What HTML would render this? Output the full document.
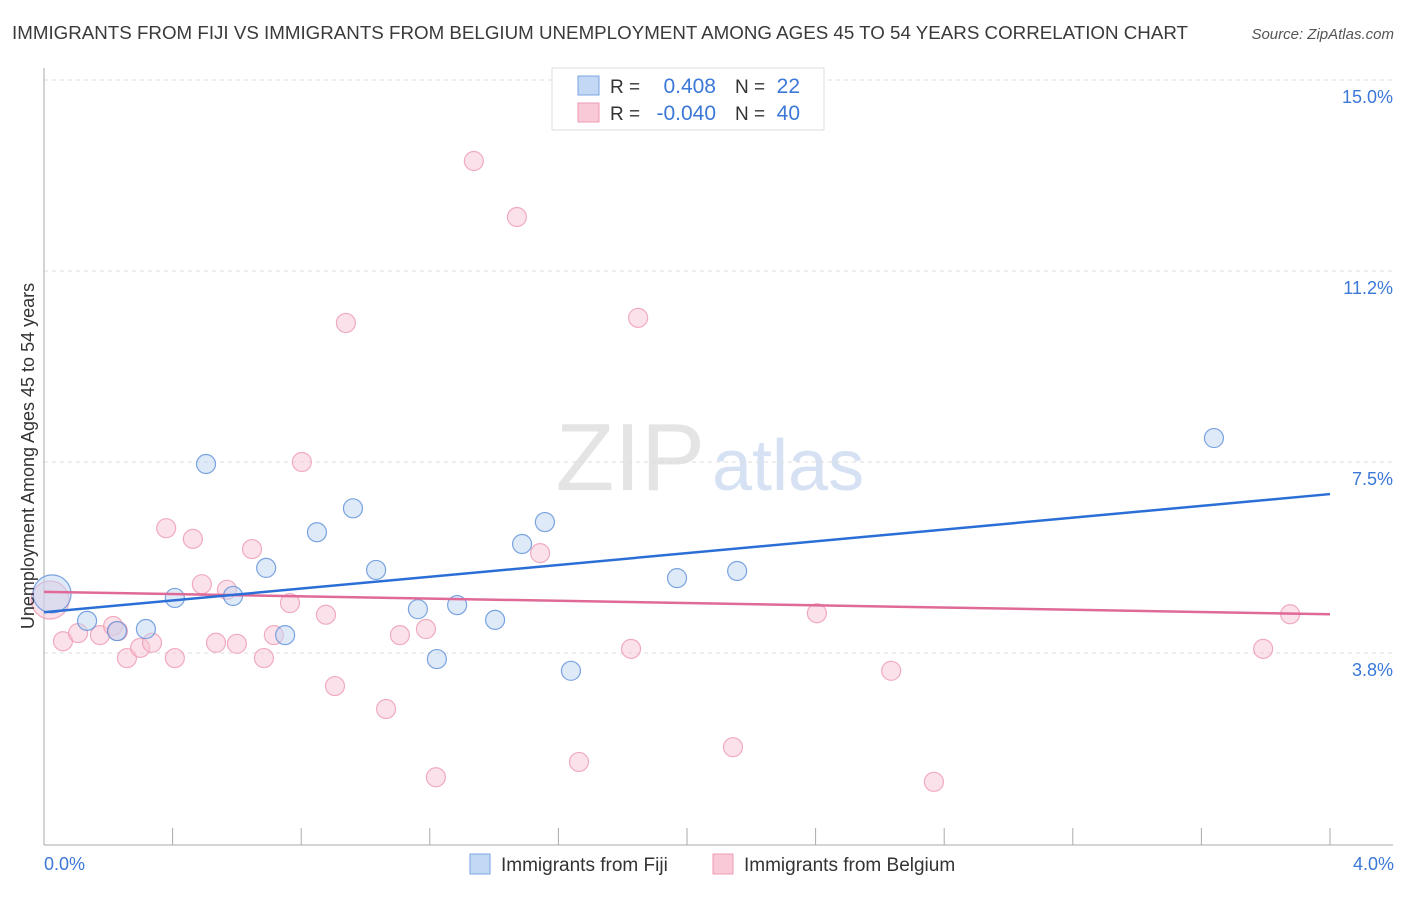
<!DOCTYPE html>
<html><head><meta charset="utf-8"><style>
body{margin:0;background:#fff;font-family:"Liberation Sans",sans-serif;}
svg text{font-family:"Liberation Sans",sans-serif;}
</style></head><body>
<svg id="chart" width="1406" height="892" xmlns="http://www.w3.org/2000/svg">
<text x="12" y="39" font-size="18.5" fill="#3a3a3a" textLength="1176" lengthAdjust="spacingAndGlyphs">IMMIGRANTS FROM FIJI VS IMMIGRANTS FROM BELGIUM UNEMPLOYMENT AMONG AGES 45 TO 54 YEARS CORRELATION CHART</text>
<text x="1394" y="39" font-size="15" fill="#555" font-style="italic" text-anchor="end">Source: ZipAtlas.com</text>
<text x="705" y="490" font-size="96" fill="#e4e4e4" text-anchor="end" font-family="Liberation Serif">ZIP</text>
<text x="712" y="490" font-size="72" fill="#d6e2f3">atlas</text>
<g id="grid"></g>
<g id="axes"></g>
<g id="marks"></g>
<text transform="translate(34,456) rotate(-90)" font-size="18" fill="#333" text-anchor="middle">Unemployment Among Ages 45 to 54 years</text>
<text x="44" y="870" font-size="18" fill="#3b78d8">0.0%</text>
<text x="1394" y="870" font-size="18" fill="#3b78d8" text-anchor="end">4.0%</text>
<g>
<rect x="552" y="68" width="272" height="62" fill="#fff" stroke="#ddd"/>
<rect x="578" y="76" width="21" height="19" fill="#c3d8f5" stroke="#7aa6e3"/>
<rect x="578" y="103" width="21" height="19" fill="#f9c9d7" stroke="#ee9ab3"/>
<text x="610" y="93" font-size="19" fill="#333">R =</text><text x="716" y="93" font-size="21" fill="#3b78d8" text-anchor="end">0.408</text>
<text x="735" y="93" font-size="19" fill="#333">N =</text><text x="800" y="93" font-size="21" fill="#3b78d8" text-anchor="end">22</text>
<text x="610" y="120" font-size="19" fill="#333">R =</text><text x="716" y="120" font-size="21" fill="#3b78d8" text-anchor="end">-0.040</text>
<text x="735" y="120" font-size="19" fill="#333">N =</text><text x="800" y="120" font-size="21" fill="#3b78d8" text-anchor="end">40</text>
</g>
<g>
<rect x="470" y="854" width="20" height="20" fill="#c3d8f5" stroke="#7aa6e3"/>
<text x="501" y="871" font-size="19" fill="#333">Immigrants from Fiji</text>
<rect x="713" y="854" width="20" height="20" fill="#f9c9d7" stroke="#ee9ab3"/>
<text x="744" y="871" font-size="19" fill="#333">Immigrants from Belgium</text>
</g>
</svg>
<script>
const yTicks=[3.75,7.5,11.25,15];
const yTickLabels=["3.8%","7.5%","11.2%","15.0%"];
const xTicks=[0.4,0.8,1.2,1.6,2.0,2.4,2.8,3.2,3.6,4.0];
const fijiX=[0.025,0.134,0.227,0.317,0.407,0.504,0.588,0.691,0.75,0.849,0.961,1.033,1.163,1.222,1.285,1.403,1.487,1.558,1.639,1.969,2.156,3.639];
const fijiY=[4.91,4.38,4.18,4.22,4.83,7.46,4.87,5.42,4.10,6.12,6.59,5.38,4.61,3.63,4.69,4.40,5.89,6.32,3.40,5.22,5.36,7.97];
const belX=[0.019,0.059,0.106,0.174,0.215,0.230,0.258,0.299,0.336,0.380,0.407,0.463,0.491,0.535,0.569,0.600,0.647,0.684,0.715,0.765,0.802,0.877,0.905,0.939,1.064,1.107,1.188,1.219,1.337,1.471,1.543,1.664,1.826,1.848,2.143,2.404,2.635,2.768,3.792,3.876];
const belY=[4.79,3.98,4.14,4.10,4.28,4.18,3.65,3.85,3.95,6.20,3.65,5.99,5.10,3.95,4.99,3.93,5.79,3.65,4.10,4.73,7.50,4.50,3.10,10.23,2.65,4.10,4.22,1.31,13.41,12.31,5.71,1.61,3.83,10.33,1.90,4.53,3.40,1.22,3.83,4.51];
const fijiTrend=[4.55,6.87];
const belTrend=[4.95,4.51];
const trendX=[0,4.0];
const NS="http://www.w3.org/2000/svg";
const xs=v=>44+v*321.5;
const ys=v=>80+(15-v)*50.93;
function mk(tag,attrs,parent){const e=document.createElementNS(NS,tag);for(const k in attrs)e.setAttribute(k,attrs[k]);parent.appendChild(e);return e;}
const grid=document.getElementById('grid'),axes=document.getElementById('axes'),marks=document.getElementById('marks');
yTicks.forEach((t,i)=>{
 const l=mk('line',{x1:44,x2:1393,y1:ys(t),y2:ys(t),stroke:'#ddd','stroke-dasharray':'4,4'},grid);
 
 
 const tx=mk('text',{x:1393,y:ys(t)+23,'font-size':18,fill:'#3b78d8','text-anchor':'end'},grid);
 tx.textContent=yTickLabels[i];
 
 
});
const ya=mk('line',{x1:44,x2:44,y1:68,y2:845,stroke:'#aaa'},axes);


const xa=mk('line',{x1:44,x2:1393,y1:845,y2:845,stroke:'#aaa'},axes);


xTicks.forEach(t=>{
 const l=mk('line',{x1:xs(t),x2:xs(t),y1:828,y2:845,stroke:'#aaa'},axes);
 
 
});
function pts(X,Y,fill,stroke,name){
 X.forEach((x,i)=>{
  const r=i===0?19:9.5;
  const c=mk('circle',{cx:xs(x),cy:ys(Y[i]),r:r,fill:fill,'fill-opacity':0.5,stroke:stroke,'stroke-width':1.2,'stroke-opacity':0.8},marks);
  
  
 });
}
pts(belX,belY,'#f7c3d3','#ee9ab3','belgium-point');
pts(fijiX,fijiY,'#bfd5f3','#5b8ed8','fiji-point');
const l1=mk('line',{x1:xs(trendX[0]),x2:xs(trendX[1]),y1:ys(belTrend[0]),y2:ys(belTrend[1]),stroke:'#e06a97','stroke-width':2.5},marks);


const l2=mk('line',{x1:xs(trendX[0]),x2:xs(trendX[1]),y1:ys(fijiTrend[0]),y2:ys(fijiTrend[1]),stroke:'#2b6fd6','stroke-width':2.5},marks);


</script>
</body></html>
